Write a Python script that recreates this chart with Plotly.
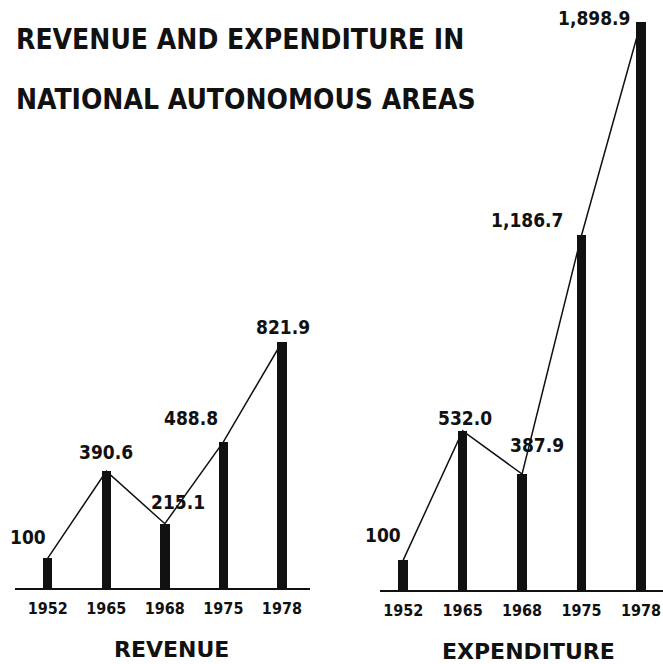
import plotly.graph_objects as go

years = ["1952", "1965", "1968", "1975", "1978"]
revenue = [100, 390.6, 215.1, 488.8, 821.9]
expenditure = [100, 532.0, 387.9, 1186.7, 1898.9]
revenue_labels = ["100", "390.6", "215.1", "488.8", "821.9"]
expenditure_labels = ["100", "532.0", "387.9", "1,186.7", "1,898.9"]

W, H = 663, 664
PX_PER_UNIT = 0.299

def py(p):  # pixel y from top -> paper
    return 1 - p / H

def px(p):
    return p / W

xs = list(range(len(years)))
NARROW = "DejaVu Sans Condensed, Liberation Sans Narrow, Arial Narrow, sans-serif"
LABEL_FONT = dict(family=NARROW, size=19, color="#111", weight="bold")
TICK_FONT = dict(family=NARROW, size=16, color="#111", weight="bold")

fig = go.Figure()

fig.add_trace(go.Bar(x=xs, y=revenue, width=0.16, marker_color="#111",
                     marker_line_width=0, xaxis="x", yaxis="y", showlegend=False))
fig.add_trace(go.Scatter(x=xs, y=revenue, mode="lines", line=dict(color="#111", width=1.5),
                         xaxis="x", yaxis="y", showlegend=False))
fig.add_trace(go.Bar(x=xs, y=expenditure, width=0.16, marker_color="#111",
                     marker_line_width=0, xaxis="x2", yaxis="y2", showlegend=False))
fig.add_trace(go.Scatter(x=xs, y=expenditure, mode="lines", line=dict(color="#111", width=1.5),
                         xaxis="x2", yaxis="y2", showlegend=False))

rev_base, exp_base, top_px = 588, 590, 8
axis_common = dict(showgrid=False, zeroline=False, showticklabels=True, ticks="",
                   showline=True, linecolor="#111", linewidth=2, tickfont=TICK_FONT,
                   tickmode="array", tickvals=xs, ticktext=years, fixedrange=True,
                   ticklabelstandoff=5)

fig.update_layout(
    width=W, height=H,
    margin=dict(l=0, r=0, t=0, b=0),
    paper_bgcolor="white", plot_bgcolor="white",
    bargap=0,
    hovermode=False,
    xaxis=dict(domain=[px(15), px(310)], range=[-0.56, 4.48], anchor="y", **axis_common),
    yaxis=dict(domain=[py(rev_base), py(top_px)], range=[0, (rev_base - top_px) / PX_PER_UNIT],
               visible=False, anchor="x", fixedrange=True),
    xaxis2=dict(domain=[px(380), 1.0], range=[-0.39, 4.37], anchor="y2", **axis_common),
    yaxis2=dict(domain=[py(exp_base), py(top_px)], range=[0, (exp_base - top_px) / PX_PER_UNIT],
                visible=False, anchor="x2", fixedrange=True),
)

rev_shift = [(-20, 21), (0, 19), (13, 22), (-32, 24), (1, 15)]
exp_shift = [(-20, 25), (2, 13), (15, 29), (-55, 15), (-47, 4)]

annotations = []
for i, (v, t) in enumerate(zip(revenue, revenue_labels)):
    annotations.append(dict(x=i, y=v, xref="x", yref="y", text=t, showarrow=False,
                            xanchor="center", yanchor="middle",
                            xshift=rev_shift[i][0], yshift=rev_shift[i][1], font=LABEL_FONT))
for i, (v, t) in enumerate(zip(expenditure, expenditure_labels)):
    annotations.append(dict(x=i, y=v, xref="x2", yref="y2", text=t, showarrow=False,
                            xanchor="center", yanchor="middle",
                            xshift=exp_shift[i][0], yshift=exp_shift[i][1], font=LABEL_FONT))

TITLE_FONT = dict(family=NARROW, size=28, color="#111", weight="bold")
annotations += [
    dict(x=px(14), y=py(40), xref="paper", yref="paper", xanchor="left", yanchor="middle",
         text="REVENUE AND EXPENDITURE IN", showarrow=False, font=TITLE_FONT),
    dict(x=px(14), y=py(100), xref="paper", yref="paper", xanchor="left", yanchor="middle",
         text="NATIONAL AUTONOMOUS AREAS", showarrow=False, font=TITLE_FONT),
]
SUB_FONT = dict(family="DejaVu Sans", size=22, color="#111", weight="bold")
annotations += [
    dict(x=px(171), y=py(649), xref="paper", yref="paper", text="REVENUE",
         xanchor="center", yanchor="middle", showarrow=False, font=SUB_FONT),
    dict(x=px(528), y=py(651), xref="paper", yref="paper", text="EXPENDITURE",
         xanchor="center", yanchor="middle", showarrow=False, font=SUB_FONT),
]
fig.update_layout(annotations=annotations)

fig.write_html("out.html", config={"displayModeBar": False},
               post_script="document.body.style.margin='0';")
